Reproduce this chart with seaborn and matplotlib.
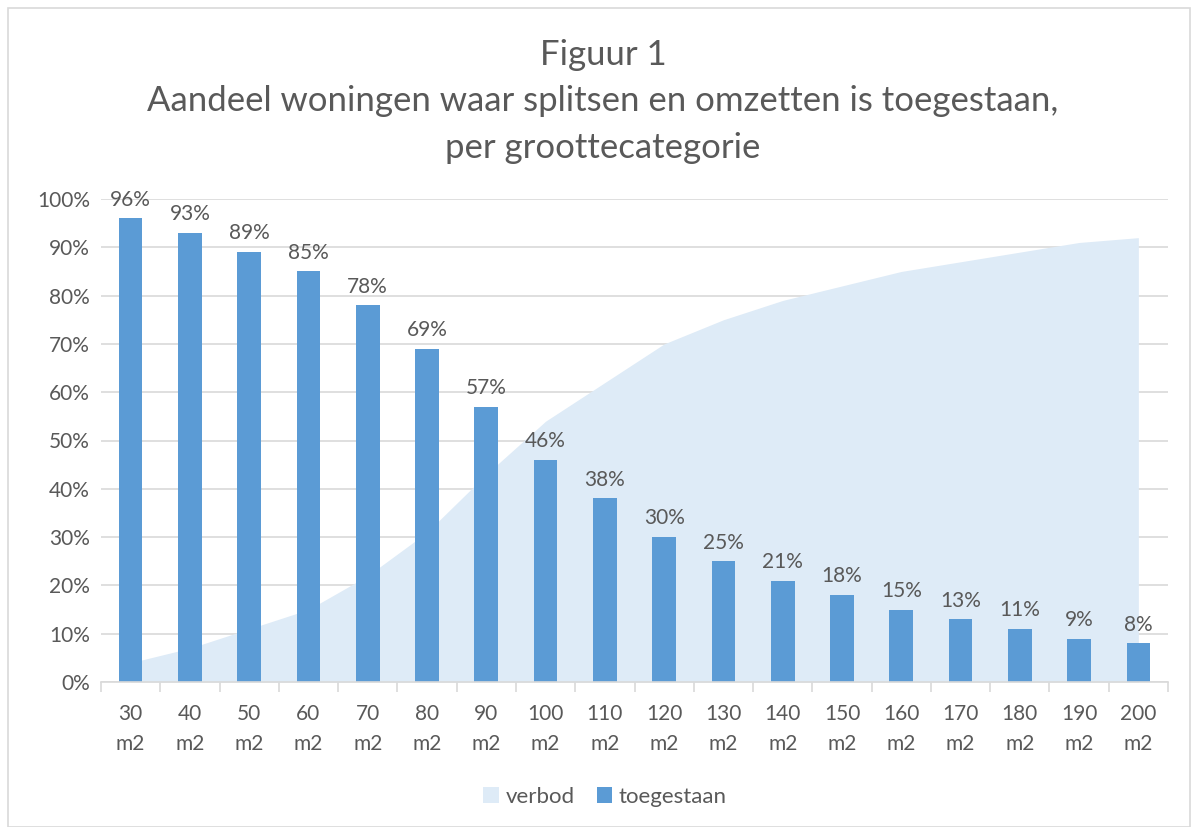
import matplotlib
matplotlib.use("Agg")
import matplotlib.pyplot as plt
import seaborn as sns
import pandas as pd
import numpy as np
from matplotlib.patches import Patch, Rectangle

categories = ["30\nm2", "40\nm2", "50\nm2", "60\nm2", "70\nm2", "80\nm2", "90\nm2", "100\nm2", "110\nm2",
              "120\nm2", "130\nm2", "140\nm2", "150\nm2", "160\nm2", "170\nm2", "180\nm2", "190\nm2", "200\nm2"]
toegestaan = [96, 93, 89, 85, 78, 69, 57, 46, 38, 30, 25, 21, 18, 15, 13, 11, 9, 8]
verbod = [4, 7, 11, 15, 22, 31, 43, 54, 62, 70, 75, 79, 82, 85, 87, 89, 91, 92]
y_ticks = [0, 10, 20, 30, 40, 50, 60, 70, 80, 90, 100]

sns.set_theme(style="white")
plt.rcParams['font.family'] = ['Lato', 'DejaVu Sans']
TXT = "#595959"
BAR = "#5B9BD5"
AREA = "#DEEBF7"

fig = plt.figure(figsize=(11.92, 8.27), dpi=100)
fig.patches.append(Rectangle((8/1192, 0), 1 - 8/1192 - 2/1192, 1 - 8/827, transform=fig.transFigure,
                             fill=False, edgecolor="#D9D9D9", linewidth=1.2))
ax = fig.add_axes([101/1192, 1 - 682/827, (1168-101)/1192, (682-199)/827])

df = pd.DataFrame({"cat": categories, "toegestaan": toegestaan, "verbod": verbod})
pos = np.arange(len(categories))
sns.barplot(data=df, x="cat", y="toegestaan", color=BAR, width=0.4, saturation=1, ax=ax, zorder=3,
            edgecolor="none")
ax.fill_between(pos, 0, df["verbod"], color=AREA, linewidth=0, zorder=2)

for i, v in enumerate(toegestaan):
    ax.text(i, v + 1.8, f"{v}%", ha="center", va="bottom", fontsize=15, color=TXT, zorder=4)

ax.set_xlim(-0.5, len(categories) - 0.5)
ax.set_ylim(0, 100)
ax.set_yticks(y_ticks)
ax.set_yticklabels([f"{t}%" for t in y_ticks], fontsize=15, color=TXT)
ax.set_axisbelow(True)
ax.yaxis.grid(True, color="#D9D9D9", linewidth=1.2, zorder=0)
ax.set_xticks(pos)
ax.set_xticklabels(categories, fontsize=15, color=TXT, linespacing=1.6)
ax.set_xticks(np.arange(-0.5, len(categories)), minor=True)
ax.tick_params(axis="x", which="major", length=0, pad=16)
ax.tick_params(axis="x", which="minor", length=7, color="#D9D9D9", width=1.2, direction="out", bottom=True)
ax.tick_params(axis="y", length=0, pad=8)
ax.set_xlabel("")
ax.set_ylabel("")
for s in ["top", "right", "left"]:
    ax.spines[s].set_visible(False)
ax.spines["bottom"].set_color("#D9D9D9")
ax.spines["bottom"].set_linewidth(1.2)
ax.spines["bottom"].set_zorder(5)

fig.text(603/1192, 1 - 55/827, "Figuur 1", ha="center", va="center", fontsize=25, color=TXT)
fig.text(603/1192, 1 - 101/827, "Aandeel woningen waar splitsen en omzetten is toegestaan,",
         ha="center", va="center", fontsize=25, color=TXT)
fig.text(603/1192, 1 - 148/827, "per groottecategorie", ha="center", va="center", fontsize=25, color=TXT)

handles = [Patch(facecolor=AREA, edgecolor="none"), Patch(facecolor=BAR, edgecolor="none")]
fig.legend(handles, ["verbod", "toegestaan"], loc="center", bbox_to_anchor=(605/1192, 1 - 797/827),
           ncol=2, frameon=False, fontsize=16, labelcolor=TXT, handlelength=0.7, handleheight=0.7,
           handletextpad=0.3, columnspacing=1.0)

fig.savefig("out.png", dpi=100)
